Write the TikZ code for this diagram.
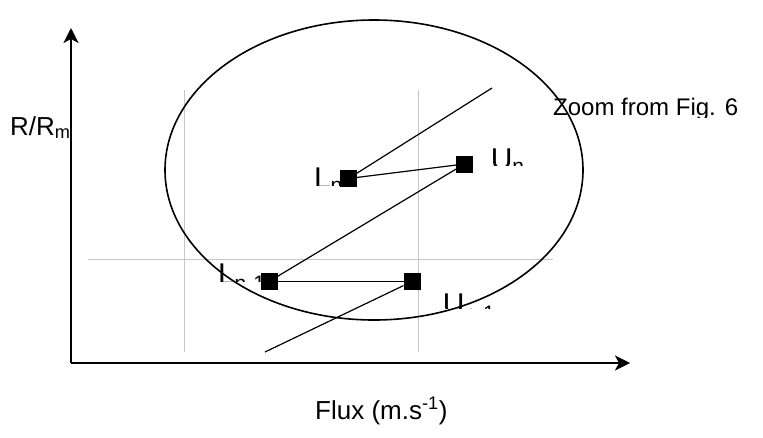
\documentclass[tikz,border=0pt]{standalone}
\usepackage{fontspec}
\setmainfont{Liberation Sans}
\usetikzlibrary{arrows.meta}
\begin{document}
\begin{tikzpicture}[x=1pt,y=-1pt,
  sq/.style={fill=black,draw=none,minimum size=17pt,inner sep=0pt,outer sep=0pt},
  axis/.style={line width=2pt,-{Stealth[length=15pt,width=15pt,inset=4pt]}},
  guide/.style={draw=black!22,line width=1pt},
  conn/.style={line width=1.2pt},
  lbl/.style={inner sep=0pt,anchor=base west,font=\fontsize{26}{30}\selectfont},
  ptlbl/.style={inner sep=0pt,anchor=base west,font=\fontsize{30}{34}\selectfont}]
\useasboundingbox (0,0) rectangle (763,437);
% axes
\coordinate (O) at (71,363);
\coordinate (ytip) at (71,28);
\coordinate (xtip) at (630,363);
\draw[axis] (O) -- (ytip);
\draw[axis] (O) -- (xtip);
% guide lines
\coordinate (g1a) at (184,90); \coordinate (g1b) at (184,352);
\coordinate (g2a) at (418,90); \coordinate (g2b) at (418,352);
\coordinate (g3a) at (88,259); \coordinate (g3b) at (553,259);
\draw[guide] (g1a) -- (g1b);
\draw[guide] (g2a) -- (g2b);
\draw[guide] (g3a) -- (g3b);
% ellipse
\draw[line width=1.6pt] (374,170) ellipse [x radius=209pt, y radius=150pt];
% points
\node[sq] (Ln) at (348.5,178.5) {};
\node[sq] (Un) at (464.5,164) {};
\node[sq] (Ln1) at (269,281.5) {};
\node[sq] (Un1) at (412,281.5) {};
\coordinate (top) at (492,88);
\coordinate (bot) at (265,352);
\draw[conn] (Ln) -- (top);
\draw[conn] (Ln) -- (Un);
\draw[conn] (Un) -- (Ln1);
\draw[conn] (Ln1) -- (Un1);
\draw[conn] (Un1) -- (bot);
% labels (clipped as in the reference)
\begin{scope}\clip (290,140) rectangle (340,185.5);
\node[ptlbl] (tLn) at (313.8,188.5) {L\textsubscript{n}};\end{scope}
\begin{scope}\clip (480,120) rectangle (600,165);
\node[ptlbl] (tUn) at (490.6,169.5) {U\textsubscript{n}};\end{scope}
\begin{scope}\clip (200,240) rectangle (260,281.5);
\node[ptlbl] (tLn1) at (217.8,284.5) {L\textsubscript{n-1}};\end{scope}
\begin{scope}\clip (430,280) rectangle (560,308);
\node[ptlbl] (tUn1) at (442.6,314.5) {U\textsubscript{n-1}};\end{scope}
\begin{scope}\clip (540,60) rectangle (763,117);
\node[lbl,font=\fontsize{24}{28}\selectfont] (zoom) at (553,115) {Zoom from Fig. 6};\end{scope}
\node[lbl] (ylab) at (10,135) {R/R\textsubscript{m}};
\node[lbl] (xlab) at (315,419) {Flux (m.s\textsuperscript{-1})};
\end{tikzpicture}
\end{document}
